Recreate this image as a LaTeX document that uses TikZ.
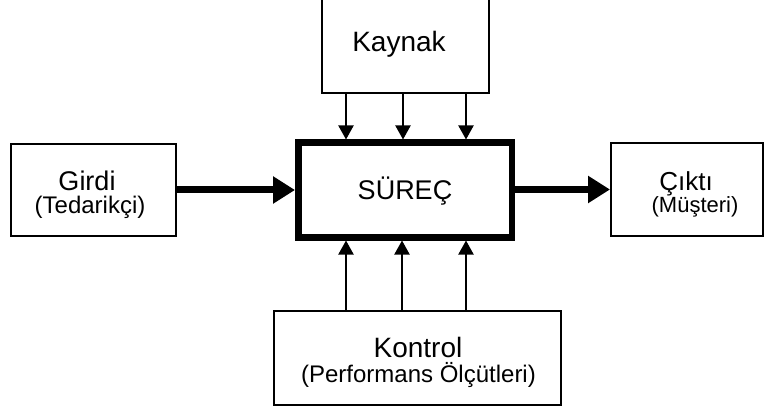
\documentclass[tikz,border=0pt]{standalone}
\usepackage{fontspec}
\setmainfont{Liberation Sans}
\usetikzlibrary{arrows.meta}
\begin{document}
\begin{tikzpicture}[x=1pt,y=-1pt,
  box/.style={draw=black,line width=2pt,rectangle,inner sep=0pt},
  mainbox/.style={draw=black,line width=6.5pt,rectangle,inner sep=0pt},
  txt/.style={anchor=base,inner sep=0pt,outer sep=0pt},
  thinarrow/.style={draw=black,line width=2pt,-{Triangle[length=14pt,width=15pt]}},
  thickarrow/.style={draw=black,line width=7pt,-{Triangle[length=22pt,width=26pt]}}]
\useasboundingbox (0,0) rectangle (768,414);
% boxes
\node[box,minimum width=167pt,minimum height=113pt] (kaynak) at (405.5,36.5) {};
\node[box,minimum width=165pt,minimum height=92pt] (girdi) at (93.5,190) {};
\node[mainbox,minimum width=213.5pt,minimum height=94.5pt] (surec) at (405,190) {};
\node[box,minimum width=152pt,minimum height=93pt] (cikti) at (687,189.5) {};
\node[box,minimum width=287pt,minimum height=94pt] (kontrol) at (417.5,358) {};
% texts
\node[txt,font=\fontsize{28}{30}\selectfont] (tkaynak) at (399,52) {Kaynak};
\node[txt,font=\fontsize{27}{30}\selectfont] (tsurec) at (405,200) {SÜREÇ};
\node[txt,font=\fontsize{27}{30}\selectfont] (tgirdi) at (87,190) {Girdi};
\node[txt,font=\fontsize{24}{26}\selectfont] (tgirdis) at (90,214) {(Tedarikçi)};
\node[txt,font=\fontsize{26}{28}\selectfont] (tcikti) at (686,190) {Çıktı};
\node[txt,font=\fontsize{22}{24}\selectfont] (tciktis) at (695,213) {(Müşteri)};
\node[txt,font=\fontsize{28}{30}\selectfont] (tkontrol) at (418,357) {Kontrol};
\node[txt,font=\fontsize{24}{26}\selectfont] (tkontrols) at (418.5,382) {(Performans Ölçütleri)};
% arrow columns
\coordinate (ka) at (346,0);
\coordinate (kb) at (403,0);
\coordinate (kc) at (466,0);
\coordinate (ca) at (346,0);
\coordinate (cb) at (402,0);
\coordinate (cc) at (466,0);
\draw[thinarrow] (kaynak.south -| ka) -- (surec.north -| ka);
\draw[thinarrow] (kaynak.south -| kb) -- (surec.north -| kb);
\draw[thinarrow] (kaynak.south -| kc) -- (surec.north -| kc);
\draw[thinarrow] (kontrol.north -| ca) -- (surec.south -| ca);
\draw[thinarrow] (kontrol.north -| cb) -- (surec.south -| cb);
\draw[thinarrow] (kontrol.north -| cc) -- (surec.south -| cc);
\draw[thickarrow] (girdi.east) -- (surec.west |- girdi.east);
\draw[thickarrow] (surec.east |- cikti.west) -- (cikti.west);
\end{tikzpicture}
\end{document}
